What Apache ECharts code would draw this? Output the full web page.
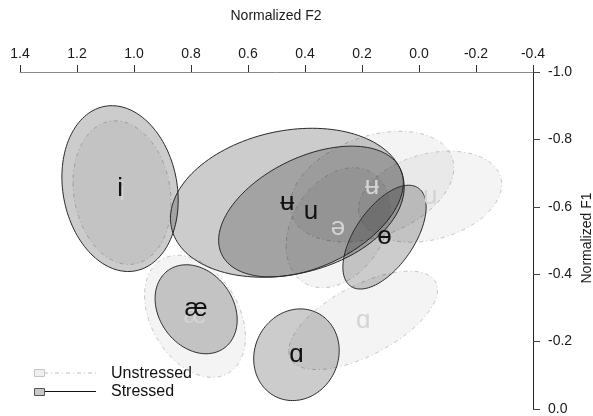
<!DOCTYPE html>
<html>
<head>
<meta charset="utf-8">
<script src="https://cdn.jsdelivr.net/npm/echarts@6/dist/echarts.min.js"></script>
<style>html,body{margin:0;padding:0;background:#fff;}#c{width:593px;height:416px;}</style>
</head>
<body>
<div id="c"></div>
<script>
// x ticks (Normalized F2) and y ticks (Normalized F1)
const f2Ticks = [1.4, 1.2, 1.0, 0.8, 0.6, 0.4, 0.2, 0.0, -0.2, -0.4];
const f1Ticks = [-1.0, -0.8, -0.6, -0.4, -0.2, 0.0];

// Stressed vowels: mean F2, mean F1, half-extent F2, half-extent F1, correlation
const stressedVowels = ['i', 'æ', 'ɑ', 'ʉ', 'u', 'ɵ'];
const stressedF2 = [1.049, 0.782, 0.430, 0.462, 0.379, 0.121];
const stressedF1 = [-0.654, -0.296, -0.161, -0.612, -0.586, -0.510];
const stressedSdF2 = [0.204, 0.144, 0.150, 0.410, 0.324, 0.146];
const stressedSdF1 = [0.246, 0.132, 0.136, 0.221, 0.194, 0.154];
const stressedR = [-0.14, -0.24, 0.09, 0.21, 0.44, 0.58];

// Unstressed vowels
const unstressedVowels = ['i', 'æ', 'ɑ', 'ʉ', 'u', 'ə'];
const unstressedF2 = [1.042, 0.786, 0.196, 0.165, -0.039, 0.284];
const unstressedF1 = [-0.642, -0.275, -0.263, -0.660, -0.630, -0.538];
const unstressedSdF2 = [0.172, 0.177, 0.261, 0.287, 0.251, 0.182];
const unstressedSdF1 = [0.213, 0.181, 0.146, 0.164, 0.135, 0.178];
const unstressedR = [-0.14, -0.34, 0.62, 0.34, 0.27, 0.30];

const FONT = 'Liberation Sans, Arial, DejaVu Sans, sans-serif';

function ellipseRenderer(F2, F1, sx, sy, r, style) {
  return function (params, api) {
    const i = params.dataIndex;
    const k = Math.sqrt(1 - r[i] * r[i]);
    const pts = [];
    const n = 144;
    for (let j = 0; j < n; j++) {
      const t = j / n * 2 * Math.PI;
      pts.push(api.coord([
        F2[i] + sx[i] * Math.cos(t),
        F1[i] + sy[i] * (r[i] * Math.cos(t) + k * Math.sin(t))
      ]));
    }
    return { type: 'polygon', shape: { points: pts }, style: style };
  };
}
function labelRenderer(names, color) {
  return function (params, api) {
    const p = api.coord([api.value(0), api.value(1)]);
    return {
      type: 'text', x: p[0], y: p[1],
      style: { text: names[params.dataIndex], fontSize: 26, fontFamily: FONT,
               fill: color, align: 'center', verticalAlign: 'middle' }
    };
  };
}
const sData = stressedF2.map((v, i) => [v, stressedF1[i]]);
const uData = unstressedF2.map((v, i) => [v, unstressedF1[i]]);

const chart = echarts.init(document.getElementById('c'), null, { renderer: 'canvas' });
const fmt = v => (Math.abs(v) < 1e-9 ? 0 : v).toFixed(1);
chart.setOption({
  animation: false,
  backgroundColor: '#ffffff',
  grid: { left: 20, right: 60, top: 72, bottom: 7, containLabel: false },
  xAxis: {
    type: 'value', position: 'top', inverse: true,
    min: f2Ticks[f2Ticks.length - 1], max: f2Ticks[0], interval: 0.2,
    axisLine: { show: true, onZero: false, lineStyle: { color: '#8a8a8a', width: 1 } },
    axisTick: { show: true, inside: false, length: 7, lineStyle: { color: '#333' } },
    axisLabel: { show: true, margin: 11, fontSize: 14, color: '#1a1a1a', fontFamily: FONT, formatter: fmt },
    splitLine: { show: false }
  },
  yAxis: {
    type: 'value', position: 'right', inverse: true,
    min: f1Ticks[0], max: f1Ticks[f1Ticks.length - 1], interval: 0.2,
    axisLine: { show: true, onZero: false, lineStyle: { color: '#222', width: 1 } },
    axisTick: { show: true, inside: false, length: 7, lineStyle: { color: '#444' } },
    axisLabel: { show: true, margin: 15, fontSize: 14, color: '#1a1a1a', fontFamily: FONT, formatter: fmt },
    splitLine: { show: false }
  },
  series: [
    {
      type: 'custom', z: 1, data: uData, clip: false,
      renderItem: ellipseRenderer(unstressedF2, unstressedF1, unstressedSdF2, unstressedSdF1, unstressedR,
        { fill: 'rgba(0,0,0,0.045)', stroke: '#c4c4c4', lineWidth: 1, lineDash: [4, 3, 1, 3] })
    },
    {
      type: 'custom', z: 2, data: sData, clip: false,
      renderItem: ellipseRenderer(stressedF2, stressedF1, stressedSdF2, stressedSdF1, stressedR,
        { fill: 'rgba(0,0,0,0.2)', stroke: '#2a2a2a', lineWidth: 1 })
    },
    { type: 'custom', z: 3, data: uData, renderItem: labelRenderer(unstressedVowels, '#d4d4d4') },
    { type: 'custom', z: 4, data: sData, renderItem: labelRenderer(stressedVowels, '#111111') }
  ],
  graphic: [
    { type: 'text', x: 276, y: 16, style: { text: 'Normalized F2', fontSize: 14, fontFamily: FONT, fill: '#1a1a1a', align: 'center', verticalAlign: 'middle' } },
    { type: 'text', x: 587, y: 238, rotation: Math.PI / 2, style: { text: 'Normalized F1', fontSize: 14, fontFamily: FONT, fill: '#1a1a1a', align: 'center', verticalAlign: 'middle' } },
    { type: 'line', shape: { x1: 44, y1: 373, x2: 96, y2: 373 }, style: { stroke: '#bdbdbd', lineWidth: 1, lineDash: [4, 3, 1, 3] } },
    { type: 'rect', shape: { x: 34.5, y: 369.5, width: 10, height: 7 }, style: { fill: '#efefef', stroke: '#c4c4c4', lineWidth: 1 } },
    { type: 'line', shape: { x1: 44, y1: 391.5, x2: 96, y2: 391.5 }, style: { stroke: '#111', lineWidth: 1 } },
    { type: 'rect', shape: { x: 34.5, y: 388.5, width: 10, height: 7 }, style: { fill: '#c8c8c8', stroke: '#555', lineWidth: 1 } },
    { type: 'text', x: 111, y: 374, style: { text: 'Unstressed', fontSize: 16, fontFamily: FONT, fill: '#111', align: 'left', verticalAlign: 'middle' } },
    { type: 'text', x: 111, y: 392, style: { text: 'Stressed', fontSize: 16, fontFamily: FONT, fill: '#111', align: 'left', verticalAlign: 'middle' } }
  ]
});
</script>
</body>
</html>
